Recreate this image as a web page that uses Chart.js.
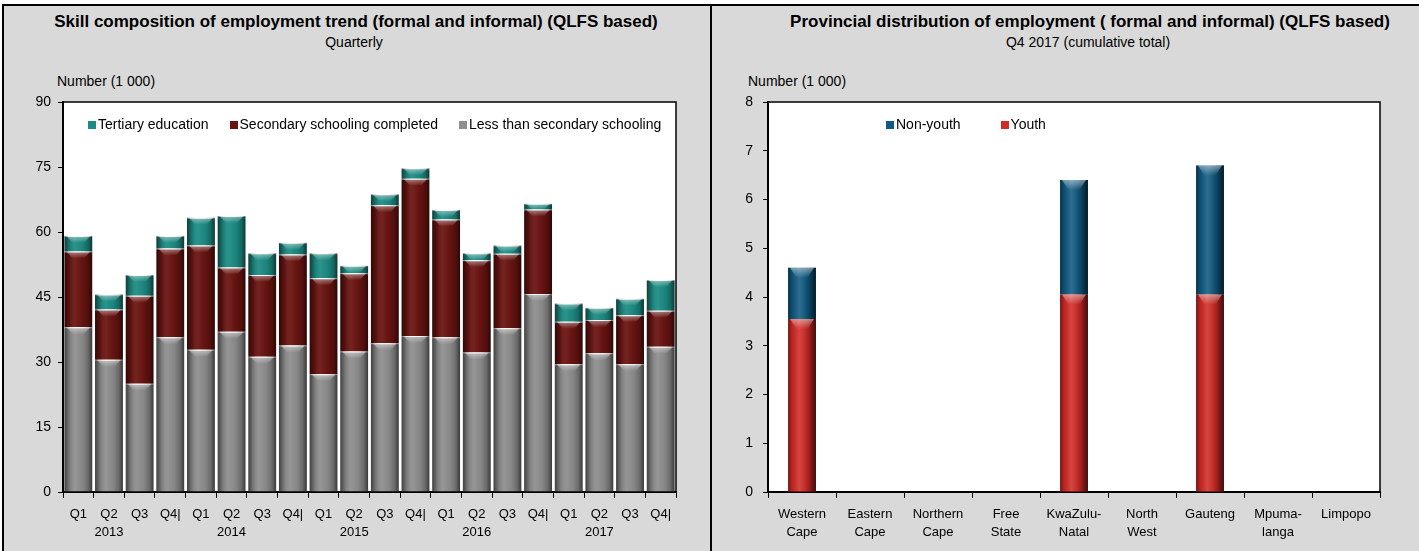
<!DOCTYPE html>
<html>
<head>
<meta charset="utf-8">
<script src="https://cdn.jsdelivr.net/npm/chart.js@4.4.1/dist/chart.umd.min.js"></script>
<style>
body{margin:0;width:1419px;height:551px;overflow:hidden;background:#fff;font-family:"Liberation Sans",Arial,sans-serif;color:#000}
.panel{position:absolute;top:4px;height:570px;background:#d9d9d9;border:2px solid #000;box-sizing:border-box}
.txt{position:absolute;white-space:nowrap;line-height:18px}
.title{font-weight:bold;font-size:17px;text-align:center}
.sub{font-size:14px;text-align:center}
canvas{position:absolute;top:0}
.leg{position:absolute;display:flex;font-size:14px;white-space:nowrap;line-height:16px}
.leg .box{display:inline-block;width:8px;height:8px;margin-right:2px;vertical-align:0px}
</style>
</head>
<body>
<div class="panel" style="left:2px;width:712px;border-right:none"></div>
<div class="panel" style="left:710px;width:730px"></div>

<div class="txt title" style="left:2px;width:708px;top:13px">Skill composition of employment trend (formal and informal) (QLFS based)</div>
<div class="txt sub" style="left:2px;width:704px;top:33px">Quarterly</div>
<div class="txt" style="left:57px;top:72px;font-size:14px">Number (1 000)</div>

<div class="txt title" style="left:782px;width:616px;top:13px">Provincial distribution of employment ( formal and informal) (QLFS based)</div>
<div class="txt sub" style="left:782px;width:612px;top:33px">Q4 2017 (cumulative total)</div>
<div class="txt" style="left:748px;top:72px;font-size:14px">Number (1 000)</div>

<canvas id="skill" width="709" height="551" style="left:0"></canvas>
<canvas id="prov" width="707" height="551" style="left:712px"></canvas>

<div class="leg" id="legSkill" style="left:88px;top:116px;gap:21px"></div>
<div class="leg" id="legProv" style="left:886px;top:116px;gap:40px"></div>

<script>
// left chart - quarterly skill composition (thousands)
var quarterTicks = ['Q1','Q2','Q3','Q4|','Q1','Q2','Q3','Q4|','Q1','Q2','Q3','Q4|','Q1','Q2','Q3','Q4|','Q1','Q2','Q3','Q4|'];
var yearTicks = ['','2013','','','','2014','','','','2015','','','','2016','','','','2017','',''];
var lessThanSecondary = [38.0,30.5,25.0,35.7,32.8,37.0,31.2,33.8,27.2,32.4,34.3,36.0,35.7,32.2,37.8,45.7,29.5,32.0,29.5,33.5];
var secondaryCompleted = [17.5,11.6,20.3,20.5,24.1,14.8,18.9,21.0,22.1,18.1,31.9,36.3,27.2,21.3,17.2,19.5,9.8,7.7,11.3,8.3];
var tertiaryEducation = [3.6,3.5,4.8,2.9,6.4,11.9,5.0,2.7,5.8,1.7,2.5,2.4,2.2,1.6,1.9,1.3,4.2,2.8,3.8,7.1];

// right chart - provinces, Q4 2017
var provinces = [['Western','Cape'],['Eastern','Cape'],['Northern','Cape'],['Free','State'],['KwaZulu-','Natal'],['North','West'],'Gauteng',['Mpuma-','langa'],'Limpopo'];
var youth = [3.55,0,0,0,4.05,0,4.05,0,0];
var nonYouth = [1.05,0,0,0,2.35,0,2.65,0,0];

Chart.defaults.font.family = '"Liberation Sans", Arial, sans-serif';
Chart.defaults.color = '#000';

var qLabels = [];
for (var i = 0; i < quarterTicks.length; i++) qLabels.push([quarterTicks[i], yearTicks[i]]);

// white plot area with frame
var plotBox = {
  id: 'plotBox',
  beforeDraw: function(chart) {
    var a = chart.chartArea, c = chart.ctx;
    c.save(); c.fillStyle = '#fff'; c.fillRect(a.left, a.top, a.width, a.height); c.restore();
  },
  afterDraw: function(chart) {
    var a = chart.chartArea, c = chart.ctx;
    c.save(); c.strokeStyle = '#000'; c.lineWidth = 1.5;
    c.beginPath(); c.moveTo(a.left, a.top); c.lineTo(a.right, a.top); c.lineTo(a.right, a.bottom); c.stroke();
    c.restore();
  }
};

// shading over bars to get the 3d look
var shade = {
  id: 'shade',
  afterDatasetsDraw: function(chart, args, opts) {
    var c = chart.ctx;
    c.save();
    chart.data.datasets.forEach(function(ds, i) {
      chart.getDatasetMeta(i).data.forEach(function(bar) {
        var h = Math.abs(bar.base - bar.y);
        if (h < 0.5) return;
        var l = bar.x - bar.width / 2, t = Math.min(bar.y, bar.base);
        var g = c.createLinearGradient(l, 0, l + bar.width, 0);
        opts.stops.forEach(function(s) { g.addColorStop(s[0], s[1]); });
        c.fillStyle = g;
        c.fillRect(l, t, bar.width, h);
        var capH = Math.min(opts.cap, h);
        var g2 = c.createLinearGradient(0, t, 0, t + capH);
        g2.addColorStop(0, 'rgba(255,255,255,0.45)');
        g2.addColorStop(1, 'rgba(255,255,255,0)');
        c.fillStyle = g2;
        c.beginPath();
        c.moveTo(l + 2, t); c.lineTo(l + bar.width - 2, t);
        c.lineTo(l + bar.width * 0.7, t + capH); c.lineTo(l + bar.width * 0.3, t + capH);
        c.closePath(); c.fill();
      });
    });
    c.restore();
  }
};

function axisX(h) {
  return {
    stacked: true,
    grid: { drawOnChartArea: false, tickLength: 6, color: '#000', offset: true },
    border: { color: '#000', width: 2 },
    ticks: { color: '#000', font: { size: 13, lineHeight: 1.35 }, padding: 8, maxRotation: 0, autoSkip: false },
    afterFit: function(s) { s.height = h; }
  };
}

var skill = new Chart(document.getElementById('skill'), {
  type: 'bar',
  data: {
    labels: qLabels,
    datasets: [
      { label: 'Less than secondary schooling', data: lessThanSecondary, backgroundColor: '#8e8e8e' },
      { label: 'Secondary schooling completed', data: secondaryCompleted, backgroundColor: '#6a1411' },
      { label: 'Tertiary education', data: tertiaryEducation, backgroundColor: '#1c8c84' }
    ]
  },
  options: {
    responsive: false, animation: false, events: [],
    layout: { padding: { top: 102, right: 33, bottom: 0, left: 0 } },
    datasets: { bar: { categoryPercentage: 1, barPercentage: 0.91, borderWidth: { top: 1 }, borderColor: 'rgba(255,255,255,0.55)' } },
    plugins: {
      legend: { display: false }, tooltip: { enabled: false },
      shade: { cap: 7, stops: [[0,'rgba(0,0,0,0.55)'],[0.18,'rgba(0,0,0,0.15)'],[0.4,'rgba(255,255,255,0.06)'],[0.65,'rgba(0,0,0,0.05)'],[0.85,'rgba(0,0,0,0.25)'],[1,'rgba(0,0,0,0.6)']] }
    },
    scales: {
      x: axisX(59),
      y: {
        stacked: true, min: 0, max: 90,
        ticks: { stepSize: 15, color: '#000', font: { size: 14 }, padding: 7 },
        grid: { drawOnChartArea: false, tickLength: 5, color: '#000' },
        border: { color: '#000', width: 2 },
        afterFit: function(s) { s.width = 63; }
      }
    }
  },
  plugins: [plotBox, shade]
});

var prov = new Chart(document.getElementById('prov'), {
  type: 'bar',
  data: {
    labels: provinces,
    datasets: [
      { label: 'Youth', data: youth, backgroundColor: '#d22a25' },
      { label: 'Non-youth', data: nonYouth, backgroundColor: '#0f5a82' }
    ]
  },
  options: {
    responsive: false, animation: false, events: [],
    layout: { padding: { top: 102, right: 39, bottom: 0, left: 0 } },
    datasets: { bar: { categoryPercentage: 1, barPercentage: 0.41 } },
    plugins: {
      legend: { display: false }, tooltip: { enabled: false },
      shade: { cap: 10, stops: [[0,'rgba(0,0,0,0.45)'],[0.15,'rgba(0,0,0,0.1)'],[0.4,'rgba(255,255,255,0.12)'],[0.7,'rgba(0,0,0,0.15)'],[1,'rgba(0,0,0,0.7)']] }
    },
    scales: {
      x: axisX(59),
      y: {
        stacked: true, min: 0, max: 8,
        ticks: { stepSize: 1, color: '#000', font: { size: 14 }, padding: 10 },
        grid: { drawOnChartArea: false, tickLength: 5, color: '#000' },
        border: { color: '#000', width: 2 },
        afterFit: function(s) { s.width = 56; }
      }
    }
  },
  plugins: [plotBox, shade]
});

// legends inside the plot area, drawn from the datasets (top series first)
function buildLegend(chart, id) {
  var el = document.getElementById(id);
  chart.data.datasets.slice().reverse().forEach(function(ds) {
    var item = document.createElement('div');
    item.innerHTML = '<span class="box" style="background:' + ds.backgroundColor + '"></span>' + ds.label;
    el.appendChild(item);
  });
}
buildLegend(skill, 'legSkill');
buildLegend(prov, 'legProv');
</script>
</body>
</html>
